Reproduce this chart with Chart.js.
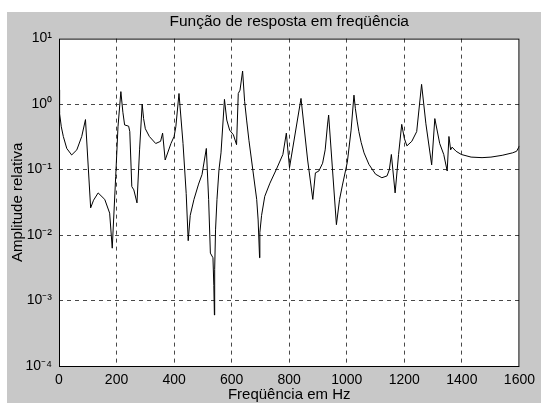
<!DOCTYPE html>
<html>
<head>
<meta charset="utf-8">
<script src="https://cdn.jsdelivr.net/npm/chart.js@4.4.1/dist/chart.umd.min.js"></script>
<style>
    html, body { margin: 0; padding: 0; background: #ffffff; }
    #wrap { position: absolute; left: 7px; top: 12px; width: 534px; height: 391px; }
</style>
</head>
<body>
<div id="wrap"><canvas id="frf" width="534" height="391"></canvas></div>
<script>
// frequency (Hz) and relative amplitude
const freqs = [
    0, 2, 8, 15, 27, 44, 62, 79, 92, 110, 120, 136, 159, 176, 185, 197, 205, 215,
    222, 228, 242, 246, 253, 260, 271, 280, 289, 294, 300, 314, 336, 353, 360, 369,
    389, 400, 406, 417, 431, 442, 449, 456, 469, 485, 497, 512, 520, 526, 535, 538,
    540, 541, 544, 549, 556, 563, 575, 583, 593, 606, 617, 623, 629, 638, 645, 652,
    660, 669, 687, 692, 697, 698, 704, 715, 733, 755, 778, 790, 801, 841, 864, 882,
    891, 903, 916, 925, 933, 937, 964, 975, 985, 1002, 1015, 1025, 1030, 1036, 1042,
    1050, 1060, 1077, 1100, 1122, 1140, 1148, 1155, 1168, 1180, 1191, 1200, 1209, 1226, 1243,
    1260, 1275, 1295, 1306, 1323, 1337, 1349, 1355, 1361, 1366, 1380, 1398, 1432,
    1470, 1501, 1540, 1576, 1590, 1598, 1600
];
const amps = [
    1.65, 0.72, 0.45, 0.32, 0.21, 0.167, 0.2, 0.32, 0.58, 0.026, 0.034, 0.044, 0.035, 0.0216, 0.0063, 0.078, 0.45, 1.55,
    0.75, 0.48, 0.46, 0.38, 0.055, 0.049, 0.031, 0.2, 1.0, 0.6, 0.42, 0.32, 0.25, 0.27, 0.36, 0.14,
    0.25, 0.32, 0.45, 1.45, 0.25, 0.043, 0.0082, 0.02, 0.035, 0.06, 0.084, 0.21, 0.035, 0.0053, 0.0045, 0.0017,
    0.0006, 0.003, 0.012, 0.035, 0.1, 0.18, 1.18, 0.57, 0.4, 0.34, 0.24, 1.45, 1.63, 3.2, 1.1, 0.57,
    0.28, 0.14, 0.035, 0.017, 0.0045, 0.011, 0.02, 0.039, 0.062, 0.1, 0.17, 0.36, 0.107, 1.22, 0.14, 0.035,
    0.089, 0.095, 0.125, 0.2, 0.48, 0.68, 0.0144, 0.035, 0.058, 0.13, 0.4, 1.37, 0.85, 0.55, 0.38,
    0.26, 0.18, 0.12, 0.085, 0.075, 0.08, 0.1, 0.17, 0.044, 0.17, 0.49, 0.3, 0.23, 0.27, 0.38,
    2.0, 0.5, 0.118, 0.6, 0.25, 0.17, 0.095, 0.32, 0.2, 0.22, 0.19, 0.17, 0.155,
    0.152, 0.155, 0.165, 0.18, 0.19, 0.22, 0.23
];
const decades = [1e-4, 1e-3, 1e-2, 1e-1, 1, 10];
const supers = {'-': '\u207B', '0': '\u2070', '1': '\u00B9', '2': '\u00B2', '3': '\u00B3', '4': '\u2074'};

const points = freqs.map((f, i) => ({x: f, y: amps[i]}));

Chart.defaults.font.family = "'Liberation Sans', Arial, sans-serif";
Chart.defaults.font.size = 14;
Chart.defaults.color = '#000000';

// gray figure, white axes, black box on top
const matlabFrame = {
    id: 'matlabFrame',
    beforeDraw(chart) {
        const {ctx, chartArea: a} = chart;
        ctx.save();
        ctx.fillStyle = '#c8c8c8';
        ctx.fillRect(0, 0, chart.width, chart.height);
        ctx.fillStyle = '#ffffff';
        ctx.fillRect(a.left, a.top, a.right - a.left, a.bottom - a.top);
        ctx.restore();
    },
    afterDraw(chart) {
        const {ctx, chartArea: a} = chart;
        ctx.save();
        ctx.strokeStyle = '#000000';
        ctx.lineWidth = 1;
        ctx.setLineDash([]);
        ctx.strokeRect(a.left + 0.5, a.top + 0.5, a.right - a.left - 1, a.bottom - a.top);
        ctx.restore();
    }
};

const gridColor = (ctx) => {
    const v = ctx.tick ? ctx.tick.value : null;
    return (v === 0 || v === 1600 || v === 1e-4 || v === 10) ? 'rgba(0,0,0,0)' : 'rgba(40,40,40,0.85)';
};

new Chart(document.getElementById('frf'), {
    type: 'line',
    data: {
        datasets: [{
            data: points,
            borderColor: '#000000',
            borderWidth: 1,
            pointRadius: 0,
            tension: 0,
            fill: false,
        }],
    },
    options: {
        responsive: false,
        animation: false,
        layout: {
            padding: {right: 17, left: 0, top: 0, bottom: 0},
        },
        scales: {
            x: {
                type: 'linear',
                min: 0,
                max: 1600,
                afterFit: (scale) => { scale.height = 37; },
                ticks: {
                    stepSize: 200,
                    padding: 6,
                    maxRotation: 0,
                    callback: (value) => String(value),
                },
                grid: {
                    color: gridColor,
                    drawTicks: false,
                },
                border: {
                    display: false,
                    dash: [4, 4],
                },
                title: {
                    display: true,
                    text: 'Freqüência em Hz',
                    font: {size: 15},
                    padding: {top: 0, bottom: -1},
                },
            },
            y: {
                type: 'logarithmic',
                min: 1e-4,
                max: 10,
                afterFit: (scale) => { scale.width = 52; },
                afterBuildTicks: (scale) => {
                    scale.ticks = decades.map(v => ({value: v, major: true}));
                },
                ticks: {
                    padding: 7,
                    callback: (value) => {
                        const e = String(Math.round(Math.log10(value)));
                        return '10' + e.split('').map(c => supers[c]).join('');
                    },
                },
                grid: {
                    color: gridColor,
                    drawTicks: false,
                },
                border: {
                    display: false,
                    dash: [4, 4],
                },
                title: {
                    display: true,
                    text: 'Amplitude relativa',
                    font: {size: 15},
                    padding: {top: 2, bottom: 0},
                },
            },
        },
        plugins: {
            legend: {display: false},
            tooltip: {enabled: false},
            title: {
                display: true,
                text: 'Função de resposta em freqüência',
                fullSize: false,
                font: {size: 15.5, weight: 'normal'},
                color: '#000000',
                padding: {top: 0, bottom: 8},
            },
        },
    },
    plugins: [matlabFrame],
});
</script>
</body>
</html>
